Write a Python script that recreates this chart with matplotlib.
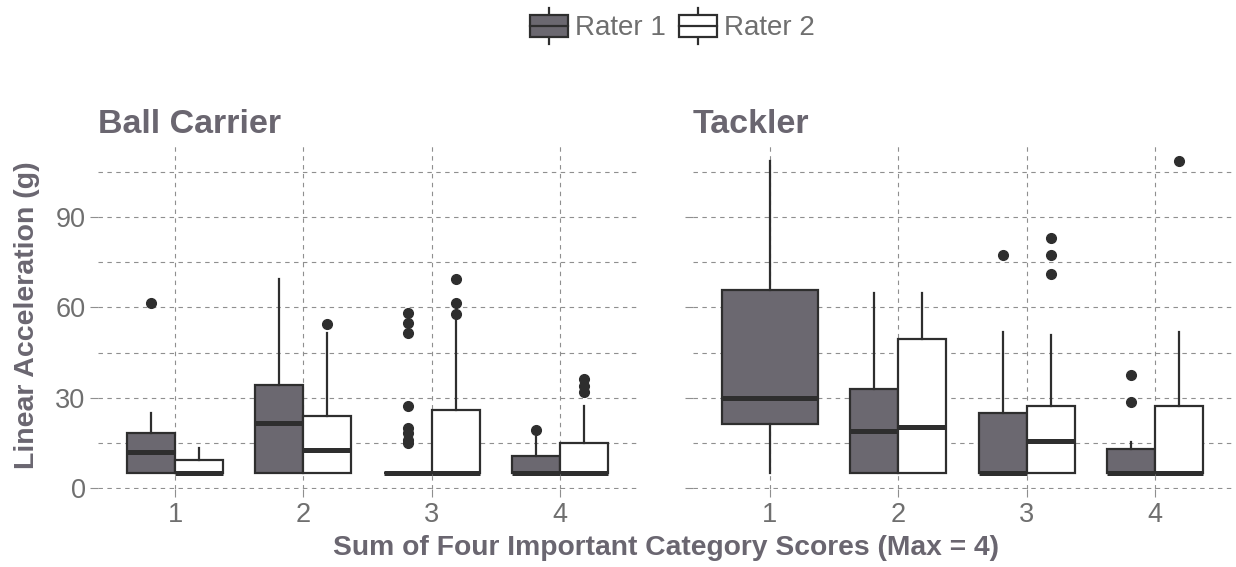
import matplotlib
matplotlib.use("Agg")
import matplotlib.pyplot as plt
from matplotlib.patches import Rectangle
from matplotlib.lines import Line2D
from matplotlib.legend_handler import HandlerBase

plt.rcParams['font.family'] = ['Liberation Sans', 'DejaVu Sans']

# ---------------- data ----------------
categories = [1, 2, 3, 4]
tick_labels = ["1", "2", "3", "4"]
panels = ["Ball Carrier", "Tackler"]
raters = ["Rater 1", "Rater 2"]

# Ball Carrier, Rater 1
bc_r1_whislo = [5.0, 5.0, 5.0, 5.0]
bc_r1_q1 = [5.0, 5.0, 5.0, 5.0]
bc_r1_med = [11.9, 21.8, 5.0, 5.0]
bc_r1_q3 = [18.4, 34.2, 5.0, 10.7]
bc_r1_whishi = [24.9, 69.3, 5.0, 17.1]
bc_r1_fliers = [[61.3], [], [58.0, 54.9, 51.6, 27.4, 19.9, 18.2, 16.0, 14.9], [19.3]]

# Ball Carrier, Rater 2
bc_r2_whislo = [5.0, 5.0, 5.0, 5.0]
bc_r2_q1 = [5.0, 5.0, 5.0, 5.0]
bc_r2_med = [5.0, 12.7, 5.0, 5.0]
bc_r2_q3 = [9.4, 24.1, 26.0, 14.9]
bc_r2_whishi = [13.3, 51.4, 56.7, 27.3]
bc_r2_fliers = [[], [54.5], [69.3, 61.3, 57.7], [36.1, 33.9, 32.0]]

# Tackler, Rater 1
tk_r1_whislo = [5.0, 5.0, 5.0, 5.0]
tk_r1_q1 = [21.5, 5.0, 5.0, 5.0]
tk_r1_med = [29.8, 19.1, 5.0, 5.0]
tk_r1_q3 = [65.7, 32.8, 24.9, 12.9]
tk_r1_whishi = [108.6, 64.6, 51.9, 15.5]
tk_r1_fliers = [[], [], [77.5], [37.6, 28.7]]

# Tackler, Rater 2 (no data for category 1)
tk_r2_whislo = [None, 5.0, 5.0, 5.0]
tk_r2_q1 = [None, 5.0, 5.0, 5.0]
tk_r2_med = [None, 20.2, 15.6, 5.0]
tk_r2_q3 = [None, 49.6, 27.3, 27.3]
tk_r2_whishi = [None, 64.6, 51.0, 51.9]
tk_r2_fliers = [[], [], [83.1, 77.5, 71.0], [108.5]]

y_ticks = [0, 30, 60, 90]
y_minor = [15, 45, 75, 105]

# ---------------- style ----------------
FILL = {"Rater 1": "#6b6870", "Rater 2": "#ffffff"}
EDGE = "#2e2e2e"
GRID = "#8f8f8f"
TEXT = "#6f6f6f"
TITLE = "#6a6670"
DODGE = 0.75

def series(wlo, q1, med, q3, whi, fl):
    out = []
    for i in range(len(categories)):
        if med[i] is None:
            out.append(None)
        else:
            out.append(dict(whislo=wlo[i], q1=q1[i], med=med[i], q3=q3[i],
                            whishi=whi[i], fliers=fl[i]))
    return out

data = {
    "Ball Carrier": {
        "Rater 1": series(bc_r1_whislo, bc_r1_q1, bc_r1_med, bc_r1_q3, bc_r1_whishi, bc_r1_fliers),
        "Rater 2": series(bc_r2_whislo, bc_r2_q1, bc_r2_med, bc_r2_q3, bc_r2_whishi, bc_r2_fliers),
    },
    "Tackler": {
        "Rater 1": series(tk_r1_whislo, tk_r1_q1, tk_r1_med, tk_r1_q3, tk_r1_whishi, tk_r1_fliers),
        "Rater 2": series(tk_r2_whislo, tk_r2_q1, tk_r2_med, tk_r2_q3, tk_r2_whishi, tk_r2_fliers),
    },
}

W, H = 1236, 567
fig = plt.figure(figsize=(W / 100, H / 100), dpi=100)
fig.patch.set_facecolor("white")

panel_left_px = [98, 693]
panel_w_px = 539
panel_top_px, panel_bot_px = 145, 489

axes = []
for pi, name in enumerate(panels):
    ax = fig.add_axes([panel_left_px[pi] / W, (H - panel_bot_px) / H,
                       panel_w_px / W, (panel_bot_px - panel_top_px) / H])
    axes.append(ax)
    ax.set_facecolor("white")
    for s in ax.spines.values():
        s.set_visible(False)
    # grid
    for yv in y_ticks + y_minor:
        ax.axhline(yv, color=GRID, lw=0.8, ls=(0, (4, 4)), zorder=0)
    for xv in categories:
        ax.axvline(xv, color=GRID, lw=0.8, ls=(0, (4, 4)), zorder=0)

    for ri, r in enumerate(raters):
        for ci, c in enumerate(categories):
            st = data[name][r][ci]
            if st is None:
                continue
            other = data[name][raters[1 - ri]][ci]
            if other is None:
                pos, wid = c, DODGE
            else:
                pos = c + (-DODGE / 4 if ri == 0 else DODGE / 4)
                wid = DODGE / 2
            ax.bxp([st], positions=[pos], widths=wid, patch_artist=True,
                   showcaps=False, manage_ticks=False,
                   boxprops=dict(facecolor=FILL[r], edgecolor=EDGE, linewidth=1.6),
                   medianprops=dict(color=EDGE, linewidth=3.6, solid_capstyle="butt"),
                   whiskerprops=dict(color=EDGE, linewidth=1.6),
                   flierprops=dict(marker="o", markerfacecolor=EDGE, markeredgecolor=EDGE,
                                   markersize=7, linestyle="none"),
                   zorder=3)

    ax.set_xlim(0.4, 4.6)
    ax.set_ylim(-0.2, 113.8)
    ax.set_xticks(categories)
    ax.set_xticklabels(tick_labels)
    ax.set_yticks(y_ticks)
    if pi == 0:
        ax.set_yticklabels([str(v) for v in y_ticks])
    else:
        ax.set_yticklabels([])
    ax.tick_params(axis="both", colors=GRID, length=6, width=0.8, labelsize=19.5,
                   labelcolor=TEXT, pad=3)
    ax.text(0.0, 1.035, name, transform=ax.transAxes, ha="left", va="baseline",
            fontsize=24.5, fontweight="bold", color=TITLE)

fig.text(27 / W, (H - 315) / H, "Linear Acceleration (g)", rotation=90,
         ha="center", va="center", fontsize=20.5, fontweight="bold", color=TITLE)
fig.text(666 / W, (H - 548) / H, "Sum of Four Important Category Scores (Max = 4)",
         ha="center", va="center", fontsize=20.3, fontweight="bold", color=TITLE)


class BoxKeyHandler(HandlerBase):
    def __init__(self, fill):
        super().__init__()
        self.fill = fill

    def create_artists(self, legend, orig_handle, xdescent, ydescent, width, height,
                       fontsize, trans):
        x0, y0 = -xdescent, -ydescent
        cx = x0 + width / 2
        wl = Line2D([cx, cx], [y0 - 0.3 * height, y0 + 1.3 * height], color=EDGE,
                    lw=1.6, transform=trans)
        rect = Rectangle((x0, y0), width, height, facecolor=self.fill, edgecolor=EDGE,
                         lw=1.6, transform=trans)
        md = Line2D([x0, x0 + width], [y0 + height / 2, y0 + height / 2], color=EDGE,
                    lw=1.6, transform=trans)
        return [wl, rect, md]


h1 = Rectangle((0, 0), 1, 1)
h2 = Rectangle((0, 0), 1, 1)
leg = fig.legend([h1, h2], raters, loc="center", bbox_to_anchor=(672 / W, (H - 28) / H),
                 ncol=2, frameon=False, fontsize=20, handlelength=1.37, handleheight=0.86,
                 handletextpad=0.25, columnspacing=0.47, borderpad=0.2,
                 handler_map={h1: BoxKeyHandler(FILL["Rater 1"]),
                              h2: BoxKeyHandler(FILL["Rater 2"])})
for t in leg.get_texts():
    t.set_color(TEXT)

fig.savefig("out.png", dpi=100, facecolor="white")
